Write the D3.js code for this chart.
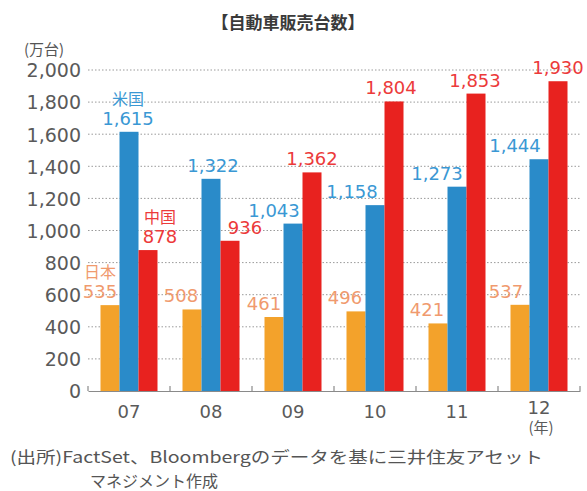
<!DOCTYPE html>
<html><head><meta charset="utf-8">
<script src="https://cdn.jsdelivr.net/npm/d3@7"></script>
<style>
body{margin:0;background:#fff;}
svg{display:block;}
text{font-family:"DejaVu Sans","Noto Sans CJK JP",sans-serif;}
</style></head>
<body>
<svg id="chart" width="587" height="491"></svg>
<script>
// ---- data ----
const years = ["07","08","09","10","11","12"];
const seriesNames = ["日本","米国","中国"];
const japan = [535, 508, 461, 496, 421, 537];
const usa   = [1615, 1322, 1043, 1158, 1273, 1444];
const china = [878, 936, 1362, 1804, 1853, 1930];
const yTicks = [0,200,400,600,800,1000,1200,1400,1600,1800,2000];
const title = "【自動車販売台数】";
const unitLabel = "(万台)";
const yearUnit = "(年)";
const sourceLines = ["(出所)FactSet、Bloombergのデータを基に三井住友アセット","マネジメント作成"];

// ---- layout / style ----
const colors = ["#f3a22b","#2a8bc9","#e8221f"];
const labelColors = ["#f09a6e","#3a98d4","#ec3a3a"];
const labelDx = [
  [-10,-11,-10,-11,-11,-14],
  [-1, 2,-19,-23,-20,-24],
  [12, 15, 0,-3,-1, 0]
];
const values = [japan, usa, china];
const cjk = "'Noto Sans CJK JP',sans-serif";

const svg = d3.select("#chart");
const x0 = d3.scaleBand().domain(years).range([88, 580]).padding(0);
const x1 = d3.scaleBand().domain(seriesNames).range([12.5, 69.5]).padding(0);
const y = d3.scaleLinear().domain([0, 2000]).range([391, 70]);

// title
svg.append("text").attr("x", 288).attr("y", 29).attr("text-anchor","middle")
  .attr("font-size", 17).attr("font-weight","bold").attr("fill","#3a3a3a")
  .style("font-family",cjk).text(title);

// unit
svg.append("text").attr("x", 24).attr("y", 55).attr("font-size", 15).attr("fill","#555")
  .style("font-family",cjk).text(unitLabel);

// grid lines
svg.append("g").selectAll("line").data(yTicks.filter(d=>d>0)).join("line")
  .attr("x1", 88).attr("x2", 580)
  .attr("y1", d=>y(d)).attr("y2", d=>y(d))
  .attr("stroke","#9a9a9a").attr("stroke-width",1).attr("stroke-dasharray","1.5,2");

// y axis labels
const yAxis = d3.axisLeft(y).tickValues(yTicks).tickSize(0).tickPadding(0)
  .tickFormat(d3.format(","));
const gy = svg.append("g").attr("transform","translate(81,0)").call(yAxis);
gy.select(".domain").remove();
gy.selectAll("text").attr("font-size",19).attr("fill","#5a5a5a")
  .style("font-family","'DejaVu Sans',sans-serif").attr("dy","0.36em");

// bars
const groups = svg.append("g").selectAll("g").data(years).join("g")
  .attr("transform", d=>`translate(${x0(d)},0)`);
groups.selectAll("rect").data((d,i)=>seriesNames.map((s,k)=>({s,k,v:values[k][i]})))
  .join("rect")
  .attr("x", d=>x1(d.s)).attr("width", x1.bandwidth())
  .attr("y", d=>y(d.v)).attr("height", d=>y(0)-y(d.v))
  .attr("fill", d=>colors[d.k]);

// x axis
const xAxis = d3.axisBottom(x0).tickSize(0).tickPadding(0).tickFormat(()=>"");
const gx = svg.append("g").attr("transform",`translate(0,${y(0)})`).call(xAxis);
gx.select(".domain").attr("stroke","#8a8a8a").attr("stroke-width",1.2);
const bounds = years.map(d=>x0(d)).concat([x0.range()[1]]);
svg.append("g").selectAll("line").data(bounds).join("line")
  .attr("x1",d=>d).attr("x2",d=>d).attr("y1",y(0)).attr("y2",y(0)-5)
  .attr("stroke","#8a8a8a").attr("stroke-width",1.2);
svg.append("g").selectAll("text").data(years).join("text")
  .attr("x", d=>x0(d)+x0.bandwidth()/2)
  .attr("y", (d,i)=> i===years.length-1 ? 414 : 418)
  .attr("text-anchor","middle").attr("font-size",18).attr("fill","#5a5a5a").text(d=>d);
svg.append("text").attr("x", x0(years[years.length-1])+x0.bandwidth()/2+2).attr("y", 433)
  .attr("text-anchor","middle").attr("font-size",15).attr("fill","#5a5a5a")
  .style("font-family",cjk).text(yearUnit);

// value labels
const fmt = d3.format(",");
values.forEach((arr,k)=>{
  arr.forEach((v,i)=>{
    const cx = x0(years[i]) + x1(seriesNames[k]) + x1.bandwidth()/2 + labelDx[k][i];
    const by = y(v) - 7;
    svg.append("text").attr("x",cx).attr("y",by).attr("text-anchor","middle")
      .attr("font-size",18).attr("fill",labelColors[k]).text(fmt(v));
    if(i===0){
      svg.append("text").attr("x",cx).attr("y",by-20).attr("text-anchor","middle")
        .attr("font-size",16).attr("fill",labelColors[k])
        .style("font-family",cjk).text(seriesNames[k]);
    }
  });
});

// source
svg.append("text").attr("x", 10).attr("y", 463).attr("font-size", 16).attr("fill","#555")
  .attr("textLength", 533).attr("lengthAdjust","spacingAndGlyphs")
  .style("font-family",cjk).text(sourceLines[0]);
svg.append("text").attr("x", 90).attr("y", 487).attr("font-size", 16).attr("fill","#555")
  .style("font-family",cjk).text(sourceLines[1]);
</script>
</body></html>
